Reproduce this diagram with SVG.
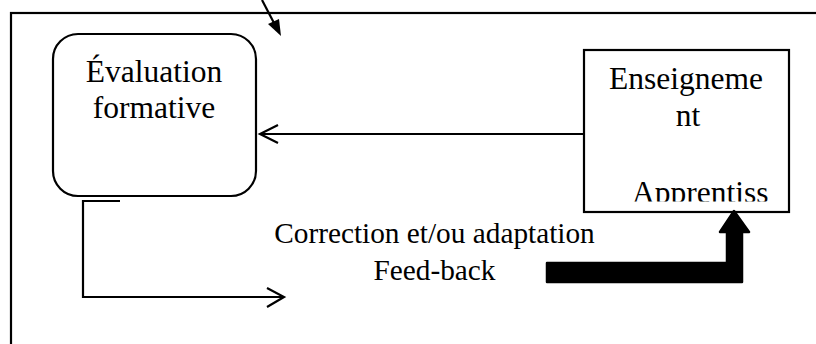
<svg xmlns="http://www.w3.org/2000/svg" width="816" height="344" viewBox="0 0 816 344">
<style>
.t{font-family:"Liberation Serif","Times New Roman",serif;fill:#000}
.b{font-size:31.5px}
.l{font-size:29.3px}
.ln{fill:none;stroke:#000;stroke-width:2.2}
</style>
<defs>
<clipPath id="clipE"><rect x="585" y="51" width="203" height="150.5"/></clipPath>
</defs>
<rect width="816" height="344" fill="#fff"/>
<g id="frame"><rect x="11" y="13" width="830" height="360" class="ln" stroke-width="2.6"/></g>
<g id="eval">
<rect x="53" y="34" width="203" height="162" rx="25" ry="25" class="ln" stroke-width="2.4"/>
<text class="t b" x="154" y="82" text-anchor="middle">Évaluation</text>
<text class="t b" x="154" y="118" text-anchor="middle">formative</text>
</g>
<g id="enseignement">
<rect x="584" y="50" width="205" height="162" class="ln" stroke-width="2.4"/>
<g clip-path="url(#clipE)">
<text class="t b" x="686" y="89" text-anchor="middle">Enseigneme</text>
<text class="t b" x="688" y="126" text-anchor="middle">nt</text>
<text class="t b" x="632" y="203">Apprentiss</text>
</g>
</g>
<g id="labels">
<text class="t l" x="434.5" y="243" text-anchor="middle">Correction et/ou adaptation</text>
<text class="t l" x="434.5" y="280" text-anchor="middle">Feed-back</text>
</g>
<g id="connectors">
<line x1="262" y1="0" x2="274" y2="23" class="ln"/>
<polygon points="281,36 268,24 279,19" fill="#000"/>
<polyline points="584,134 260,134" class="ln"/>
<polyline points="278,125 260,134 278,143" class="ln"/>
<polyline points="120,201 83,201 83,297 283,297" class="ln"/>
<polyline points="267,288 284,297 267,307" class="ln"/>
<path d="M547,263 H727 V232 H720 L734,211 L749,232 H742 V282 H547 Z" fill="#000" stroke="#000" stroke-width="2.5" stroke-linejoin="round"/>
</g>
</svg>
